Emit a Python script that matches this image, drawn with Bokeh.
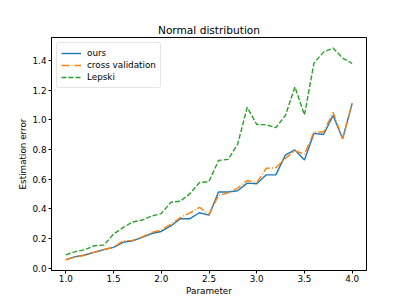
from bokeh.plotting import figure
from bokeh.models import Range1d, Legend, LegendItem, FixedTicker, PrintfTickFormatter
from bokeh.embed import file_html
from bokeh.resources import INLINE

param = [1.0, 1.1, 1.2, 1.3, 1.4, 1.5, 1.6, 1.7, 1.8, 1.9, 2.0, 2.1, 2.2, 2.3, 2.4, 2.5,
         2.6, 2.7, 2.8, 2.9, 3.0, 3.1, 3.2, 3.3, 3.4, 3.5, 3.6, 3.7, 3.8, 3.9, 4.0]
ours = [0.057, 0.077, 0.088, 0.107, 0.124, 0.140, 0.173, 0.184, 0.207, 0.233, 0.247,
        0.284, 0.333, 0.333, 0.373, 0.357, 0.513, 0.513, 0.522, 0.573, 0.569, 0.629,
        0.629, 0.762, 0.797, 0.729, 0.909, 0.901, 1.029, 0.873, 1.111]
cross_validation = [0.055, 0.075, 0.086, 0.107, 0.125, 0.141, 0.184, 0.187, 0.210, 0.240,
                    0.257, 0.295, 0.340, 0.373, 0.410, 0.362, 0.490, 0.507, 0.540, 0.591,
                    0.577, 0.673, 0.676, 0.740, 0.791, 0.769, 0.918, 0.918, 1.051, 0.873, 1.111]
lepski = [0.089, 0.111, 0.124, 0.151, 0.155, 0.229, 0.273, 0.311, 0.324, 0.351, 0.367,
          0.444, 0.451, 0.502, 0.577, 0.584, 0.726, 0.733, 0.835, 1.084, 0.969, 0.966,
          0.947, 1.029, 1.222, 1.033, 1.384, 1.457, 1.484, 1.417, 1.380]
x_ticks = [1.0, 1.5, 2.0, 2.5, 3.0, 3.5, 4.0]
y_ticks = [0.0, 0.2, 0.4, 0.6, 0.8, 1.0, 1.2, 1.4]

FONT = "DejaVu Sans"

allv = ours + cross_validation + lepski
ymin, ymax = min(allv), max(allv)
ym = 0.05 * (ymax - ymin)
xmin, xmax = min(param), max(param)
xm = 0.05 * (xmax - xmin)

p = figure(width=400, height=300, output_backend="svg", toolbar_location=None,
           x_range=Range1d(xmin - xm, xmax + xm), y_range=Range1d(ymin - ym, ymax + ym),
           min_border_left=51, min_border_right=34, min_border_top=37, min_border_bottom=30)

p.title.text = "Normal distribution"
p.title.align = "center"
p.title.text_font = FONT
p.title.text_font_size = "10.6px"
p.title.text_font_style = "normal"
p.title.text_color = "black"
p.title.standoff = 4

p.xgrid.visible = False
p.ygrid.visible = False
p.outline_line_color = "black"
p.outline_line_width = 1
p.outline_line_alpha = 1

for ax in (p.xaxis[0], p.yaxis[0]):
    ax.axis_line_color = "black"
    ax.major_tick_line_color = "black"
    ax.major_tick_in = 0
    ax.major_tick_out = 3
    ax.minor_tick_line_color = None
    ax.major_label_text_font = FONT
    ax.major_label_text_font_size = "8.8px"
    ax.major_label_text_color = "black"
    ax.axis_label_text_font = FONT
    ax.axis_label_text_font_size = "8.8px"
    ax.axis_label_text_font_style = "normal"
    ax.axis_label_text_color = "black"
    ax.major_label_standoff = 2
    ax.axis_label_standoff = 2
    ax.formatter = PrintfTickFormatter(format="%.1f")

p.xaxis[0].ticker = FixedTicker(ticks=x_ticks)
p.yaxis[0].ticker = FixedTicker(ticks=y_ticks)
p.xaxis[0].axis_label = "Parameter"
p.yaxis[0].axis_label = "Estimation error"
p.xaxis[0].major_label_standoff = 1
p.xaxis[0].axis_label_standoff = 1

r1 = p.line(param, ours, line_color="#1f77b4", line_width=1.4)
r2 = p.line(param, cross_validation, line_color="#ff7f0e", line_width=1.4, line_dash="8 2 1 2")
r3 = p.line(param, lepski, line_color="#2ca02c", line_width=1.4, line_dash="5 2")

legend = Legend(items=[LegendItem(label="ours", renderers=[r1]),
                       LegendItem(label="cross validation", renderers=[r2]),
                       LegendItem(label="Lepski", renderers=[r3])],
                location="top_left")
legend.label_text_font = FONT
legend.label_text_font_size = "8.8px"
legend.label_text_color = "black"
legend.glyph_width = 20
legend.glyph_height = 12
legend.label_height = 12
legend.spacing = 0
legend.padding = 4
legend.margin = 5
legend.label_standoff = 6
legend.border_line_color = "#cccccc"
legend.border_line_width = 1
legend.border_radius = 3
legend.background_fill_alpha = 0.8
p.add_layout(legend)

open("out.html", "w").write(file_html(p, INLINE))
